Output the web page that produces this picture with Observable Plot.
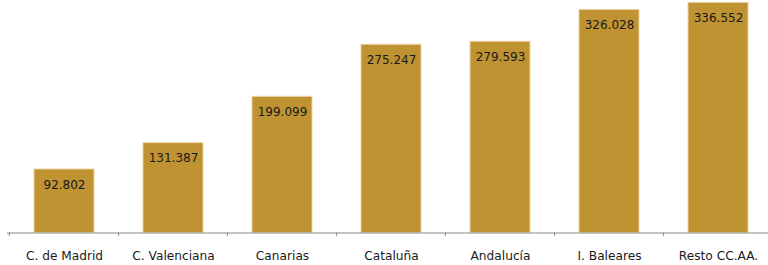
<!DOCTYPE html>
<html><head><meta charset="utf-8">
<script src="https://cdn.jsdelivr.net/npm/d3@7"></script>
<script src="https://cdn.jsdelivr.net/npm/@observablehq/plot@0.6"></script>
<style>html,body{margin:0;padding:0;background:#fff;overflow:hidden}</style>
</head><body><div id="chart"></div>
<script>
const categories = ["C. de Madrid","C. Valenciana","Canarias","Cataluña","Andalucía","I. Baleares","Resto CC.AA."];
const values = [92.802, 131.387, 199.099, 275.247, 279.593, 326.028, 336.552];
const labels = ["92.802","131.387","199.099","275.247","279.593","326.028","336.552"];
const data = categories.map((c,i)=>({cat:c, v:values[i], label:labels[i]}));
const font = "DejaVu Sans, Verdana, sans-serif";
const chart = Plot.plot({
  width: 768, height: 265,
  marginLeft: 7, marginRight: 0, marginTop: 0, marginBottom: 32.5,
  style: {fontFamily: font, background: "#fff"},
  x: {domain: categories, range: [7, 775.6], paddingInner: 0.45, paddingOuter: 0.225, label: null},
  y: {domain: [0, 340], axis: null},
  marks: [
    Plot.barY(data, {x: "cat", y: "v", fill: "#BF9232", stroke: "#EBD2A0", strokeWidth: 1}),
    Plot.text(data, {x: "cat", y: "v", text: "label", dy: 15.5, fill: "#1a1a1a", fontSize: 12, fontFamily: font}),
    Plot.ruleY([0], {stroke: "#8c8c8c", strokeWidth: 1.2}),
    Plot.axisX({tickSize: 0, tickPadding: 18, fontSize: 12.2, fill: "#1a1a1a", fontFamily: font, label: null})
  ]
});
document.getElementById("chart").appendChild(chart);
// band boundary ticks derived from Plot's x scale
const sx = chart.scale("x");
const sy = chart.scale("y");
const y0 = sy.apply(0);
const svg = d3.select(chart);
const g = svg.append("g").attr("stroke", "#8c8c8c").attr("stroke-width", 1);
categories.forEach(c => {
  const bx = sx.apply(c) - sx.step * sx.paddingOuter;
  g.append("line").attr("x1", bx).attr("x2", bx).attr("y1", y0).attr("y2", y0 + 3.5);
});
</script></body></html>
